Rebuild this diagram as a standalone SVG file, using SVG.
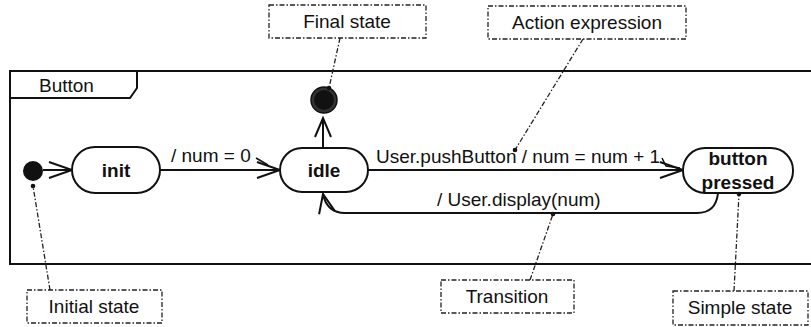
<svg xmlns="http://www.w3.org/2000/svg" width="811" height="327" viewBox="0 0 811 327">
  <style>
    text { font-family: "Liberation Sans", Arial, sans-serif; fill: #111; }
    .lbl { font-size: 19px; }
    .st { font-size: 19px; font-weight: bold; text-anchor: middle; }
    .note-t { font-size: 19px; text-anchor: middle; }
    .frame { fill: none; stroke: #111; stroke-width: 2; }
    .state { fill: #fff; stroke: #111; stroke-width: 2; }
    .edge { fill: none; stroke: #111; stroke-width: 2; }
    .note { fill: #fff; stroke: #222; stroke-width: 1.3; stroke-dasharray: 5 2 1.5 2; }
    .anchor { fill: none; stroke: #222; stroke-width: 1.3; stroke-dasharray: 5 2 1.5 2; }
  </style>
  <defs>
    <marker id="open" markerUnits="userSpaceOnUse" markerWidth="26" markerHeight="20" refX="23" refY="8" orient="auto" overflow="visible">
      <path d="M0,0 L23,8 L0,16" fill="none" stroke="#111" stroke-width="2"/>
    </marker>
    <marker id="openS" markerUnits="userSpaceOnUse" markerWidth="22" markerHeight="20" refX="19" refY="8" orient="auto" overflow="visible">
      <path d="M0,0 L19,8 L0,16" fill="none" stroke="#111" stroke-width="2"/>
    </marker>
  </defs>

  <!-- state machine frame -->
  <g id="frame">
    <path class="frame" d="M 820 71 H 10 V 264 H 820"/>
    <path class="frame" d="M 10 98 H 130 L 137 88 V 71"/>
    <text class="lbl" x="39" y="92">Button</text>
  </g>

  <!-- transitions -->
  <g id="connectors">
    <line class="edge" x1="43" y1="170" x2="72" y2="170" marker-end="url(#open)"/>
    <line class="edge" x1="160" y1="170" x2="280" y2="170" marker-end="url(#open)"/>
    <line class="edge" x1="323" y1="148" x2="323" y2="118" marker-end="url(#openS)"/>
    <line class="edge" x1="368" y1="170" x2="683" y2="170" marker-end="url(#open)"/>
    <path class="edge" d="M 718 193 Q 716 213 697 213 H 345 Q 327 213 323 194" marker-end="url(#openS)"/>
    <!-- label leaders -->
    <line stroke="#111" stroke-width="1.5" x1="256" y1="158" x2="268" y2="165"/>
    <path fill="none" stroke="#111" stroke-width="1.5" d="M 662 158 L 666 166 L 680 168"/>
    <text class="lbl" x="171" y="162">/ num = 0</text>
    <text class="lbl" x="376" y="163">User.pushButton / num =  num + 1</text>
    <text class="lbl" x="437" y="206">/ User.display(num)</text>
  </g>

  <!-- pseudo states -->
  <g id="initial">
    <circle cx="33" cy="171" r="10" fill="#111"/>
  </g>
  <g id="final">
    <circle cx="324" cy="100" r="13" fill="#333" stroke="#111" stroke-width="1.5"/>
    <circle cx="324" cy="100" r="10" fill="#111"/>
  </g>

  <!-- simple states -->
  <g id="init">
    <rect class="state" x="72" y="147" width="88" height="46" rx="23"/>
    <text class="st" x="116" y="177">init</text>
  </g>
  <g id="idle">
    <rect class="state" x="280" y="148" width="88" height="44" rx="22"/>
    <text class="st" x="324" y="177">idle</text>
  </g>
  <g id="button-pressed">
    <rect class="state" x="683" y="148" width="110" height="45" rx="22"/>
    <text class="st" x="738" y="165">button</text>
    <text class="st" x="738" y="189">pressed</text>
  </g>

  <!-- annotations -->
  <g id="note-final">
    <rect class="note" x="269" y="5" width="157" height="33"/>
    <text class="note-t" x="347" y="28">Final state</text>
    <line class="anchor" x1="340" y1="38" x2="329" y2="88"/>
    <circle cx="329" cy="88" r="2.3" fill="#111"/>
  </g>
  <g id="note-action">
    <rect class="note" x="488" y="6" width="198" height="33"/>
    <text class="note-t" x="587" y="29">Action expression</text>
    <line class="anchor" x1="583" y1="39" x2="515" y2="150"/>
    <circle cx="515" cy="150" r="2.3" fill="#111"/>
  </g>
  <g id="note-initial">
    <rect class="note" x="27" y="290" width="135" height="33"/>
    <text class="note-t" x="94" y="313">Initial state</text>
    <line class="anchor" x1="50" y1="290" x2="33" y2="186"/>
    <circle cx="33" cy="186" r="2.3" fill="#111"/>
  </g>
  <g id="note-transition">
    <rect class="note" x="441" y="280" width="133" height="33"/>
    <text class="note-t" x="507" y="303">Transition</text>
    <line class="anchor" x1="530" y1="280" x2="553" y2="214"/>
    <circle cx="553" cy="214" r="2.3" fill="#111"/>
  </g>
  <g id="note-simple">
    <rect class="note" x="673" y="291" width="135" height="34"/>
    <text class="note-t" x="740" y="314">Simple state</text>
    <line class="anchor" x1="734" y1="291" x2="739" y2="194"/>
    <circle cx="739" cy="194" r="2.3" fill="#111"/>
  </g>
</svg>
